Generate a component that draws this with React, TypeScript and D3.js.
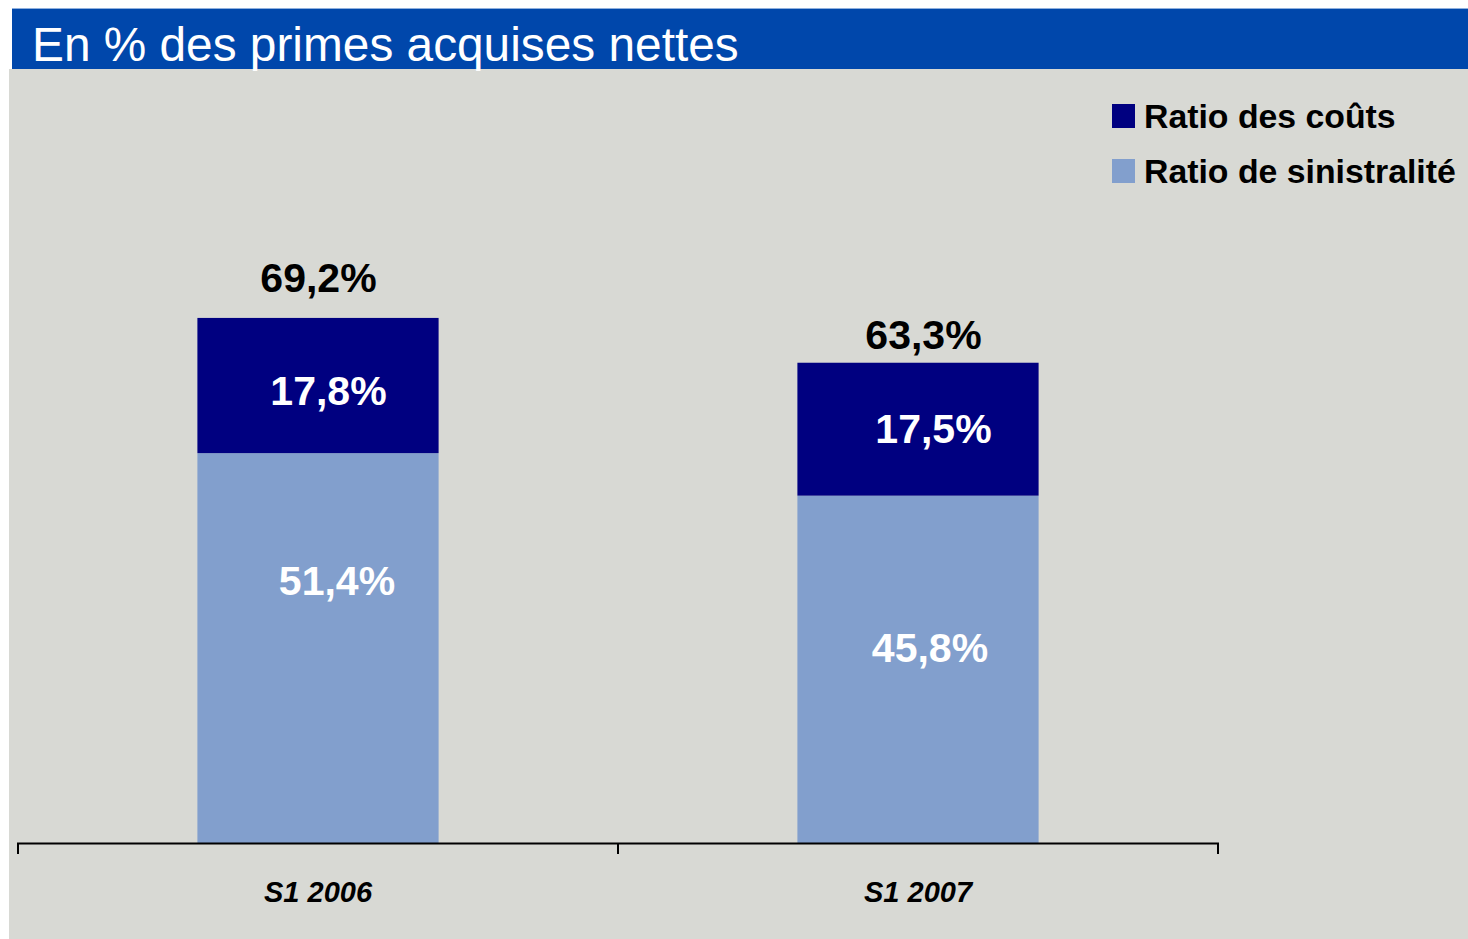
import React from 'react';
import * as d3 from 'd3';

// values (in % of net earned premiums)
const categories = ['S1 2006', 'S1 2007'];
const sinistralite = [51.4, 45.8];
const couts = [17.8, 17.5];
const totals = [69.2, 63.3];
const seriesNames = ['Ratio des coûts', 'Ratio de sinistralité'];

const fmt = (v: number) => d3.format('.1f')(v).replace('.', ',') + '%';

// hand-placed label nudges from the original slide, [dx, dy] in px
const nudgeLow = [[19, -68], [12, -22]];
const nudgeHigh = [[10.5, 5], [15.5, -1]];
const nudgeTotal = [[0.5, -26], [5.5, -14]];

const W = 1468;
const H = 939;
const font = '"Liberation Sans", Arial, sans-serif';
const colHigh = '#000080';
const colLow = '#829FCD';

const App = () => {
    const x = d3.scaleBand<string>().domain(categories).range([18, 1218]).padding(0);
    const y = d3.scaleLinear().domain([0, 100]).range([843.5, 84]);
    const barW = x.bandwidth() * 0.402;
    const cx = (c: string) => (x(c) as number) + x.bandwidth() / 2;
    const ticks = [...categories.map(c => x(c) as number), 1218];

    return (
        <svg width={W} height={H} style={{ position: 'absolute', left: 0, top: 0, display: 'block' }}
            fontFamily={font}>
            <rect x={0} y={0} width={W} height={H} fill="#fff" />
            <rect x={9} y={69} width={W - 9} height={H - 69} fill="#D8D9D4" />
            <rect x={12} y={8} width={W - 12} height={61} fill="#0047AB" />
            <line x1={12} x2={W} y1={8.5} y2={8.5} stroke="#8FB0DE" strokeWidth={1} />
            <text x={32} y={61} fill="#fff" fontSize={47.8}>En % des primes acquises nettes</text>

            {categories.map((c, i) => {
                const x0 = cx(c) - barW / 2;
                const yLowTop = y(sinistralite[i]);
                const yTop = y(sinistralite[i] + couts[i]);
                return (
                    <g key={c}>
                        <rect x={x0} y={yLowTop} width={barW} height={y(0) - yLowTop} fill={colLow} />
                        <rect x={x0} y={yTop} width={barW} height={yLowTop - yTop} fill={colHigh} />
                        <text x={cx(c) + nudgeLow[i][0]} y={(yLowTop + y(0)) / 2 + 14.7 + nudgeLow[i][1]}
                            textAnchor="middle" fill="#fff" fontWeight="bold" fontSize={41}>{fmt(sinistralite[i])}</text>
                        <text x={cx(c) + nudgeHigh[i][0]} y={(yTop + yLowTop) / 2 + 14.7 + nudgeHigh[i][1]}
                            textAnchor="middle" fill="#fff" fontWeight="bold" fontSize={41}>{fmt(couts[i])}</text>
                        <text x={cx(c) + nudgeTotal[i][0]} y={y(totals[i]) + nudgeTotal[i][1]}
                            textAnchor="middle" fill="#000" fontWeight="bold" fontSize={41}>{fmt(totals[i])}</text>
                        <text x={cx(c)} y={902} textAnchor="middle" fill="#000" fontWeight="bold"
                            fontStyle="italic" fontSize={29}>{c}</text>
                    </g>
                );
            })}

            {/* category axis */}
            <line x1={17} x2={1219} y1={y(0)} y2={y(0)} stroke="#000" strokeWidth={2} />
            {ticks.map(t => (
                <line key={t} x1={t} x2={t} y1={y(0)} y2={854} stroke="#000" strokeWidth={2} />
            ))}

            {/* legend */}
            {seriesNames.map((s, i) => (
                <g key={s} transform={`translate(1112,${104 + i * 55})`}>
                    <rect x={0} y={0} width={23} height={24} fill={i === 0 ? colHigh : colLow} />
                    <text x={32} y={24} fill="#000" fontWeight="bold" fontSize={33.8}>{s}</text>
                </g>
            ))}
        </svg>
    );
};

export default App;
